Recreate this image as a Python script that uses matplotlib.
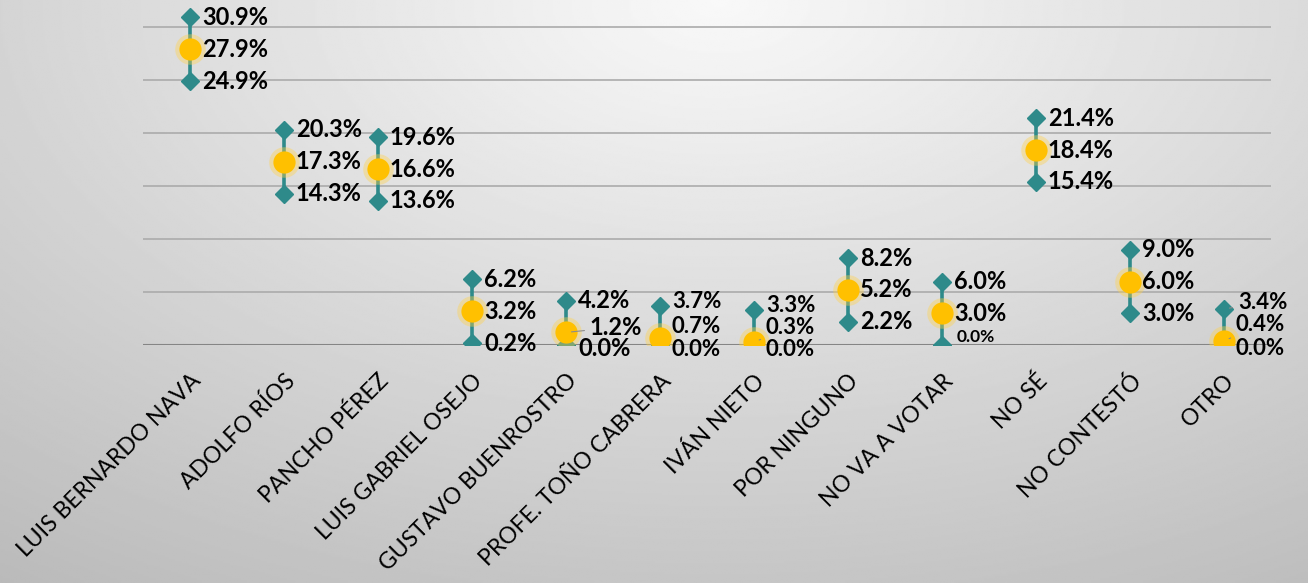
import numpy as np
import matplotlib
matplotlib.use("Agg")
import matplotlib.pyplot as plt

plt.rcParams["font.family"] = ["Lato", "DejaVu Sans"]

## data ##
cats = ["LUIS BERNARDO NAVA", "ADOLFO RÍOS", "PANCHO PÉREZ", "LUIS GABRIEL OSEJO",
        "GUSTAVO BUENROSTRO", "PROFE. TOÑO CABRERA", "IVÁN NIETO", "POR NINGUNO",
        "NO VA A VOTAR", "NO SÉ", "NO CONTESTÓ", "OTRO"]
high = [30.9, 20.3, 19.6, 6.2, 4.2, 3.7, 3.3, 8.2, 6.0, 21.4, 9.0, 3.4]
mid = [27.9, 17.3, 16.6, 3.2, 1.2, 0.7, 0.3, 5.2, 3.0, 18.4, 6.0, 0.4]
low = [24.9, 14.3, 13.6, 0.2, 0.0, 0.0, 0.0, 2.2, 0.0, 15.4, 3.0, 0.0]

teal = "#2E8A8A"
gold = "#FFC000"

# label nudges in pixels (dx, dy) for the crowded ones
nudge = {
    (4, "mid"): (24, 5), (4, "low"): (12, -3),
    (5, "high"): (12, 4), (5, "mid"): (12, 11), (5, "low"): (12, -4),
    (6, "high"): (12, 5), (6, "mid"): (12, 14), (6, "low"): (12, -4),
    (8, "low"): (15, 8),
    (11, "high"): (14, 7), (11, "mid"): (12, 16), (11, "low"): (12, -3),
}
leader = [(4, "mid"), (6, "mid"), (11, "mid"), (11, "high")]

fig = plt.figure(figsize=(13.08, 5.83), dpi=100)

# background gradient
bg = fig.add_axes([0, 0, 1, 1])
bg.axis("off")
yy, xx = np.mgrid[0:1:300j, 0:1:600j]
d = np.sqrt(((xx - 0.55) * 1.3) ** 2 + (yy - 0.0) ** 2)
grad = 0.975 - 0.2 * d
bg.imshow(grad, extent=[0, 1, 0, 1], aspect="auto", cmap="gray", vmin=0, vmax=1,
          origin="upper", zorder=0)

ax = fig.add_axes([0.1093, 0.408, 0.8624, 0.592])
ax.patch.set_alpha(0)
x = np.arange(len(cats))
ax.set_xlim(-0.5, len(cats) - 0.5)
ax.set_ylim(0, 32.55)
for g in [5, 10, 15, 20, 25, 30]:
    ax.axhline(g, color="#ABABAB", lw=1.2, zorder=1)
ax.axhline(0, color="#858585", lw=1.5, zorder=1)
for s in ax.spines.values():
    s.set_visible(False)
ax.set_yticks([])
ax.set_xticks(x)
ax.set_xticklabels(cats, rotation=45, ha="right", rotation_mode="anchor", fontsize=16.5)
ax.tick_params(axis="x", length=0, pad=18)

ax.vlines(x, low, high, color=teal, lw=2.6, zorder=2)
ax.plot(x, high, "D", color=teal, ms=9, zorder=3, ls="none")
ax.plot(x, low, "D", color=teal, ms=9, zorder=3, ls="none")
ax.plot(x, mid, "o", color="#FFD24D", alpha=0.4, ms=22, zorder=4, ls="none", mec="none")
ax.plot(x, mid, "o", color=gold, ms=16, zorder=5, ls="none", mec="none")

for i in range(len(cats)):
    for kind, vals in (("high", high), ("mid", mid), ("low", low)):
        dx, dy = nudge.get((i, kind), (12, 0))
        fs = 12.5 if (i, kind) == (8, "low") else 17
        crowded = i in (5, 6, 11)
        if crowded:
            fs = 16
        ap = None
        if (i, kind) in leader:
            ap = dict(arrowstyle="-", color="#8C8C8C", lw=0.8, shrinkA=2, shrinkB=4)
        ax.annotate("%1.1f%%" % vals[i], xy=(i, vals[i]), xytext=(dx, dy),
                    textcoords="offset pixels", ha="left", va="center",
                    fontsize=fs, fontweight="bold", color="black",
                    annotation_clip=False, arrowprops=ap, zorder=6)

fig.savefig("out.png", dpi=100)
